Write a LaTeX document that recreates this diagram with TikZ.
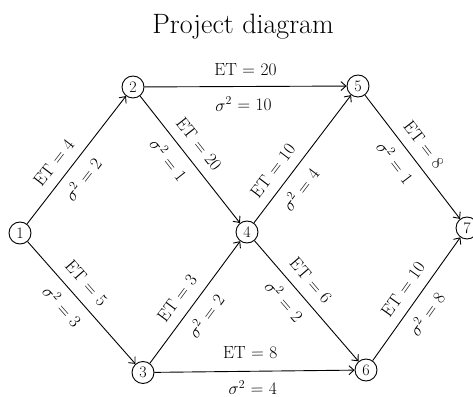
\documentclass[tikz,border=0pt]{standalone}
\usetikzlibrary{arrows.meta}
\newcommand\myeq{\hspace{5.5pt}=\hspace{5.5pt}}
\tikzset{
  ev/.style={draw, circle, line width=0.9pt, minimum size=22pt, inner sep=0pt, font=\fontsize{16}{18}\selectfont},
  act/.style={line width=0.9pt, -{Straight Barb[length=5pt,width=9pt,line width=0.9pt]}},
  labf/.style={inner sep=1pt, font=\fontsize{17.5}{19}\selectfont},
  etl/.style={labf, sloped, above=9pt},
  sgl/.style={labf, sloped, below=8pt},
}
\begin{document}
\begin{tikzpicture}[x=1pt,y=1pt]
\useasboundingbox (0,0) rectangle (473,396);
\node[font=\fontsize{28}{32}\selectfont] (title) at (243,369) {Project diagram};
\node[ev] (n1) at (20,163) {1};
\node[ev] (n2) at (133,309) {2};
\node[ev] (n3) at (143,23.5) {3};
\node[ev] (n4) at (247,164) {4};
\node[ev] (n5) at (358,310) {5};
\node[ev] (n6) at (366,26) {6};
\node[ev] (n7) at (467,168) {7};
\draw[act] (n1) -- (n2)
  node[etl, pos=0.40] (l12a) {ET\myeq 4}
  node[sgl, pos=0.43] (l12b) {$\sigma^2$\myeq 2};
\draw[act] (n2) -- (n4)
  node[etl, pos=0.46] (l24a) {ET\myeq 20}
  node[sgl, pos=0.42] (l24b) {$\sigma^2$\myeq 1};
\draw[act] (n4) -- (n5)
  node[etl, pos=0.33] (l45a) {ET\myeq 10}
  node[sgl, pos=0.34] (l45b) {$\sigma^2$\myeq 4};
\draw[act] (n5) -- (n7)
  node[etl, pos=0.48] (l57a) {ET\myeq 8}
  node[sgl, pos=0.46] (l57b) {$\sigma^2$\myeq 1};
\draw[act] (n1) -- (n3)
  node[etl, pos=0.43] (l13a) {ET\myeq 5}
  node[sgl, pos=0.44] (l13b) {$\sigma^2$\myeq 3};
\draw[act] (n3) -- (n4)
  node[etl, pos=0.45] (l34a) {ET\myeq 3}
  node[sgl, pos=0.47] (l34b) {$\sigma^2$\myeq 2};
\draw[act] (n4) -- (n6)
  node[etl, pos=0.42] (l46a) {ET\myeq 6}
  node[sgl, pos=0.41] (l46b) {$\sigma^2$\myeq 2};
\draw[act] (n6) -- (n7)
  node[etl, pos=0.50] (l67a) {ET\myeq 10}
  node[sgl, pos=0.46] (l67b) {$\sigma^2$\myeq 8};
\draw[act] (n2) -- (n5)
  node[etl, pos=0.50] (l25a) {ET\myeq 20}
  node[sgl, pos=0.49, below=1pt] (l25b) {$\sigma^2$\myeq 10};
\draw[act] (n3) -- (n6)
  node[etl, pos=0.48, above=2pt] (l36a) {ET\myeq 8}
  node[sgl, pos=0.49, below=0pt] (l36b) {$\sigma^2$\myeq 4};
\end{tikzpicture}
\end{document}
